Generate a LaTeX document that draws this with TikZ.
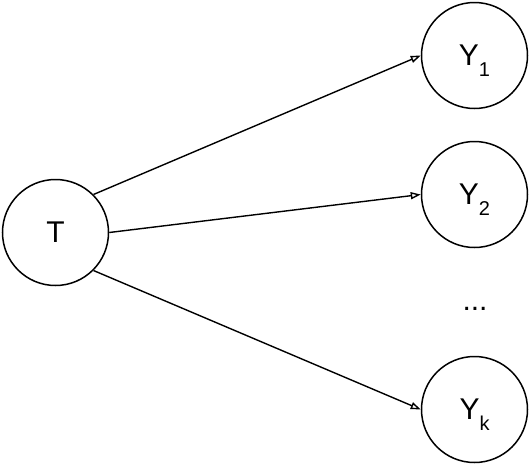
\documentclass[tikz,border=0pt]{standalone}
\usepackage{fontspec}
\setmainfont{Liberation Sans}
\usetikzlibrary{arrows.meta}
\tikzset{
  var/.style={circle,draw,line width=1.5pt,minimum size=106pt,inner sep=0pt,font=\fontsize{30}{36}\selectfont},
  conn/.style={line width=1.4pt,-{Triangle[open,length=10pt,width=7pt]}}
}
\newcommand{\subtxt}[1]{\smash{\raisebox{-11pt}{\fontsize{20}{24}\selectfont #1}}}
\begin{document}
\begin{tikzpicture}[x=1pt,y=-1pt]
\useasboundingbox (0,0) rectangle (530,466);
\node[var] (T) at (55.5,232.5) {T};
\node[var] (Y1) at (474.5,55.5) {Y\subtxt{1}};
\node[var] (Y2) at (474.5,194.5) {Y\subtxt{2}};
\node[var] (Yk) at (474.5,409.5) {Y\subtxt{k}};
\node[font=\fontsize{30}{36}\selectfont,anchor=base] (dots) at (475,310) {...};
\draw[conn] (T.45) -- (Y1.west);
\draw[conn] (T.east) -- (Y2.west);
\draw[conn] (T.-45) -- (Yk.west);
\end{tikzpicture}
\end{document}
